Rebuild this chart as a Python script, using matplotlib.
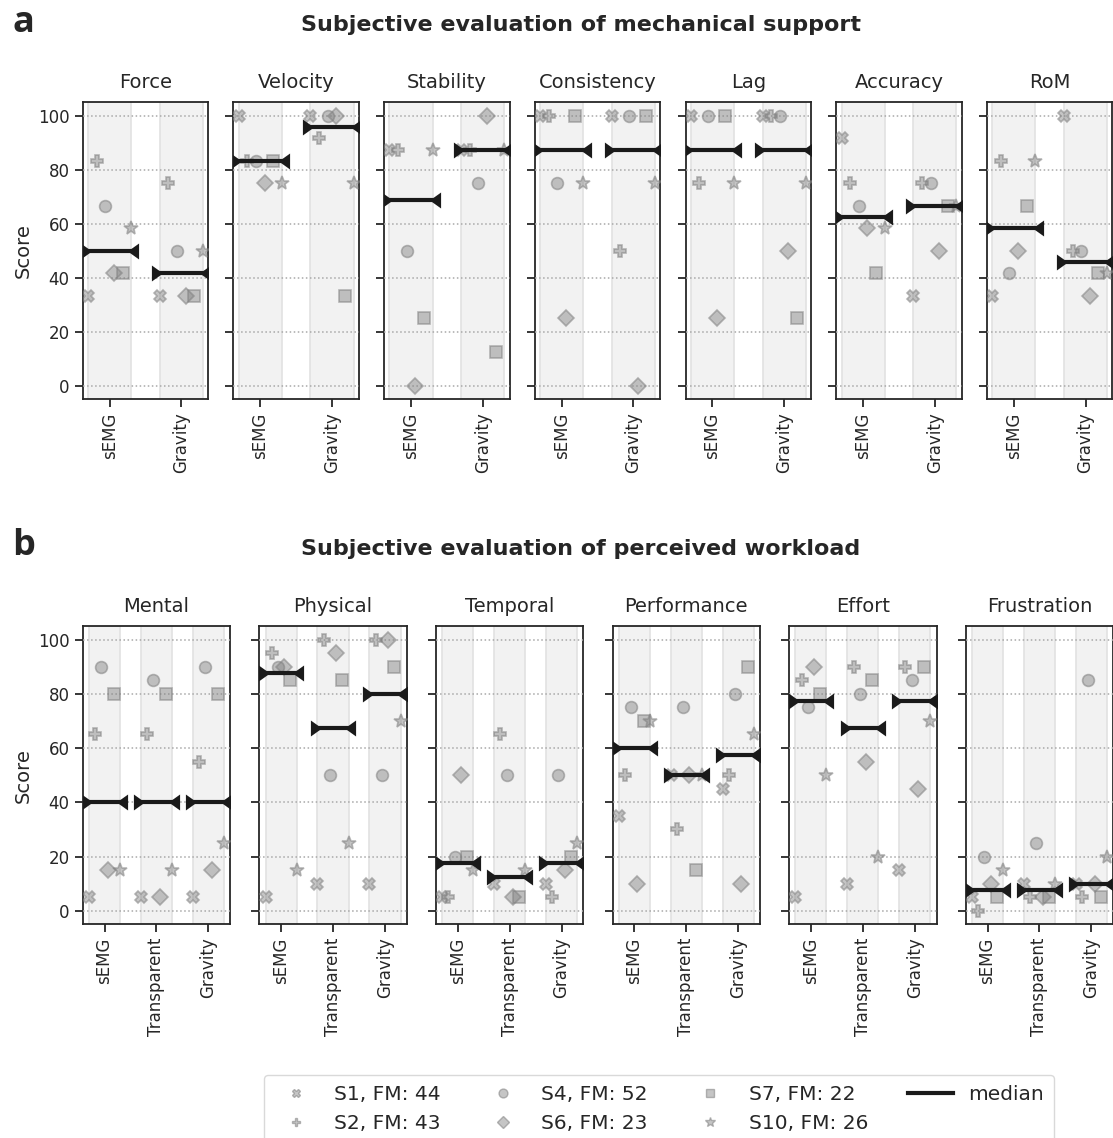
import numpy as np
import matplotlib.pyplot as plt
from matplotlib.lines import Line2D

# subjects and their marker
subjects = ['S1, FM: 44', 'S2, FM: 43', 'S4, FM: 52', 'S6, FM: 23', 'S7, FM: 22', 'S10, FM: 26']
markers = ['X', 'P', 'o', 'D', 's', '*']

support_conditions = ['sEMG', 'Gravity']
workload_conditions = ['sEMG', 'Transparent', 'Gravity']

# mechanical support scores: one row per condition, one column per subject
force = [[33.3, 83.3, 66.7, 41.7, 41.7, 58.3],
         [33.3, 75, 50, 33.3, 33.3, 50]]
velocity = [[100, 83.3, 83.3, 75, 83.3, 75],
            [100, 91.7, 100, 100, 33.3, 75]]
stability = [[87.5, 87.5, 50, 0, 25, 87.5],
             [87.5, 87.5, 75, 100, 12.5, 87.5]]
consistency = [[100, 100, 75, 25, 100, 75],
               [100, 50, 100, 0, 100, 75]]
lag = [[100, 75, 100, 25, 100, 75],
       [100, 100, 100, 50, 25, 75]]
accuracy = [[91.7, 75, 66.7, 58.3, 41.7, 58.3],
            [33.3, 75, 75, 50, 66.7, 66.7]]
rom = [[33.3, 83.3, 41.7, 50, 66.7, 83.3],
       [100, 50, 50, 33.3, 41.7, 41.7]]

# perceived workload scores (NASA-TLX)
mental = [[5, 65, 90, 15, 80, 15], [5, 65, 85, 5, 80, 15], [5, 55, 90, 15, 80, 25]]
physical = [[5, 95, 90, 90, 85, 15], [10, 100, 50, 95, 85, 25], [10, 100, 50, 100, 90, 70]]
temporal = [[5, 5, 20, 50, 20, 15], [10, 65, 50, 5, 5, 15], [10, 5, 50, 15, 20, 25]]
performance = [[35, 50, 75, 10, 70, 70], [50, 30, 75, 50, 15, 50], [45, 50, 80, 10, 90, 65]]
effort = [[5, 85, 75, 90, 80, 50], [10, 90, 80, 55, 85, 20], [15, 90, 85, 45, 90, 70]]
frustration = [[5, 0, 20, 10, 5, 15], [10, 5, 25, 5, 5, 10], [10, 5, 85, 10, 5, 20]]

support_titles = ['Force', 'Velocity', 'Stability', 'Consistency', 'Lag', 'Accuracy', 'RoM']
support_scores = [force, velocity, stability, consistency, lag, accuracy, rom]
workload_titles = ['Mental', 'Physical', 'Temporal', 'Performance', 'Effort', 'Frustration']
workload_scores = [mental, physical, temporal, performance, effort, frustration]

dark = '#262626'
plt.rcParams['font.family'] = 'DejaVu Sans'
plt.rcParams['text.color'] = dark

offsets = np.linspace(-0.3, 0.3, 6)
mface = (0.5, 0.5, 0.5, 0.45)
medge = (0.5, 0.5, 0.5, 0.55)
msizes = {'X': 8.5, 'P': 8.5, 'o': 8.5, 'D': 8.5, 's': 8.5, '*': 10}
# median end caps: wedge with its base on the outside
tri_right = [(-0.7, -1), (0.7, 0), (-0.7, 1)]
tri_left = [(0.7, -1), (-0.7, 0), (0.7, 1)]


def draw_panel(ax, title, scores, conditions, xpad, first):
    n = len(conditions)
    for i in range(n):
        ax.axvspan(i - 0.3, i + 0.3, facecolor='#f2f2f2', edgecolor='#e2e2e2', lw=1.2, zorder=0)
    for i, row in enumerate(scores):
        for j, val in enumerate(row):
            ax.plot(i + offsets[j], val, marker=markers[j], ms=msizes[markers[j]],
                    mfc=mface, mec=medge, mew=1.2, ls='none', zorder=3)
        med = np.median(row)
        ax.plot([i - 1 / 3, i + 1 / 3], [med, med], color='#1a1a1a', lw=3, zorder=5,
                solid_capstyle='butt')
        ax.plot(i - 1 / 3, med, marker=tri_right, ms=11.5, color='#1a1a1a', mew=0, zorder=5)
        ax.plot(i + 1 / 3, med, marker=tri_left, ms=11.5, color='#1a1a1a', mew=0, zorder=5)
    ax.set_xlim(-xpad, n - 1 + xpad)
    ax.set_ylim(-5, 105)
    ax.set_yticks(range(0, 101, 20))
    ax.set_xticks(range(n))
    ax.set_xticklabels(conditions, rotation=90, fontsize=12, color=dark)
    ax.grid(axis='y', ls=':', color='#a8a8a8', lw=1.1, zorder=1)
    ax.set_axisbelow(False)
    ax.set_title(title, fontsize=14, pad=10, color=dark)
    ax.tick_params(direction='out', length=6, width=1.3, color=dark, labelsize=12, labelcolor=dark)
    for s in ax.spines.values():
        s.set_color(dark)
        s.set_linewidth(1.3)
    if first:
        ax.set_ylabel('Score', fontsize=14, color=dark)
    else:
        ax.set_yticklabels([])


W, H = 1113, 1138
fig = plt.figure(figsize=(W / 100, H / 100), dpi=100)

for k in range(7):
    ax = fig.add_axes([(82.7 + k * 150.7) / W, 1 - 399 / H, 125.5 / W, 296.7 / H])
    draw_panel(ax, support_titles[k], support_scores[k], support_conditions, 0.375, k == 0)

for k in range(6):
    ax = fig.add_axes([(82.7 + k * 176.6) / W, 1 - 924.3 / H, 147.5 / W, 298.3 / H])
    draw_panel(ax, workload_titles[k], workload_scores[k], workload_conditions, 0.42, k == 0)

fig.text(12 / W, 1 - 32 / H, 'a', fontsize=26, fontweight='bold', family='Open Sans', va='baseline')
fig.text(12 / W, 1 - 555 / H, 'b', fontsize=26, fontweight='bold', family='Open Sans', va='baseline')
fig.text(581 / W, 1 - 25 / H, 'Subjective evaluation of mechanical support',
         fontsize=16, fontweight='bold', ha='center', va='center')
fig.text(581 / W, 1 - 549 / H, 'Subjective evaluation of perceived workload',
         fontsize=16, fontweight='bold', ha='center', va='center')

handles = [Line2D([], [], marker=markers[j], ms=msizes[markers[j]] * 0.75, mfc=mface, mec=medge,
                  ls='none', label=subjects[j]) for j in range(6)]
handles.append(Line2D([], [], color='#1a1a1a', lw=3, label='median'))
fig.legend(handles=handles, ncol=4, loc='upper center', bbox_to_anchor=(659 / W, 1 - 1065 / H),
           fontsize=14.5, frameon=True, edgecolor='#d0d0d0', fancybox=True,
           columnspacing=2.0, handlelength=2.2, borderpad=0.5)

fig.savefig('out.png', dpi=100)
